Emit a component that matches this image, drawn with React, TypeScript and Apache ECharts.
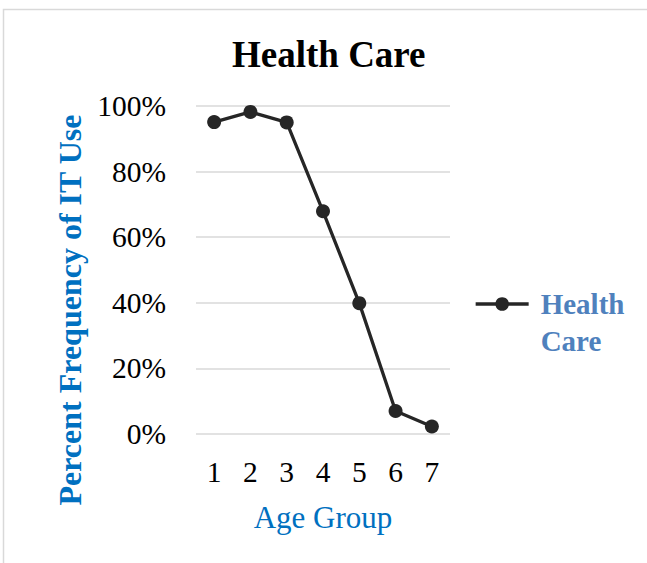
import React, { useEffect, useRef } from "react";
import * as echarts from "echarts";

const categories = ["1", "2", "3", "4", "5", "6", "7"];
const healthCare = [0.951, 0.982, 0.95, 0.679, 0.399, 0.07, 0.023];
const seriesName = "Health Care";
const yTicks = { min: 0, max: 1, interval: 0.2 };

const FONT = '"Liberation Serif", "Times New Roman", serif';

export default function App() {
  const ref = useRef<HTMLDivElement>(null);
  useEffect(() => {
    if (!ref.current) return;
    const chart = echarts.init(ref.current, null, { renderer: "svg" });
    chart.setOption({
      animation: false,
      backgroundColor: "#ffffff",
      title: {
        text: "Health Care",
        left: 227,
        top: 31,
        textStyle: {
          fontFamily: FONT,
          fontSize: 37,
          fontWeight: "bold",
          color: "#000000",
          lineHeight: 37,
        },
      },
      graphic: [
        {
          type: "rect",
          shape: { x: 3.5, y: 9.5, width: 700, height: 600 },
          style: { fill: "none", stroke: "#d9d9d9", lineWidth: 1.5 },
          silent: true,
        },
        {
          type: "text",
          x: 70,
          y: 310,
          rotation: Math.PI / 2,
          style: {
            text: "Percent Frequency of IT Use",
            fontFamily: FONT,
            fontSize: 32,
            fontWeight: "bold",
            fill: "#0070C0",
            align: "center",
            verticalAlign: "middle",
          },
        },
      ],
      legend: {
        data: [seriesName],
        left: 469,
        top: 304 - 55.5 - 5,
        itemWidth: 53,
        itemHeight: 17,
        formatter: () => "\nHealth\nCare",
        lineStyle: { width: 3.3 },
        textStyle: {
          fontFamily: FONT,
          fontSize: 29,
          fontWeight: "bold",
          color: "#4F81BD",
          lineHeight: 37,
          padding: [0, 0, 0, 7],
        },
      },
      grid: { left: 196, right: 197, top: 106, bottom: 129, containLabel: false },
      xAxis: {
        type: "category",
        data: categories,
        boundaryGap: true,
        name: "Age Group",
        nameLocation: "middle",
        nameGap: 68,
        nameTextStyle: { fontFamily: FONT, fontSize: 31, color: "#0070C0", lineHeight: 31 },
        axisLine: { show: false },
        axisTick: { show: false },
        axisLabel: { fontFamily: FONT, fontSize: 29.5, color: "#000000", margin: 23, lineHeight: 29 },
      },
      yAxis: {
        type: "value",
        min: yTicks.min,
        max: yTicks.max,
        interval: yTicks.interval,
        axisLine: { show: false },
        axisTick: { show: false },
        splitLine: { lineStyle: { color: "#d9d9d9", width: 1.5 } },
        axisLabel: {
          fontFamily: FONT,
          fontSize: 29.5,
          color: "#000000",
          margin: 30,
          formatter: (v: number) => `${Math.round(v * 100)}%`,
        },
      },
      series: [
        {
          name: seriesName,
          type: "line",
          data: healthCare,
          symbol: "circle",
          symbolSize: 14,
          lineStyle: { color: "#262626", width: 3.3 },
          itemStyle: { color: "#262626" },
        },
      ],
    });
    return () => chart.dispose();
  }, []);
  return (
    <div
      ref={ref}
      style={{ position: "fixed", left: 0, top: 0, width: 647, height: 563 }}
    />
  );
}
